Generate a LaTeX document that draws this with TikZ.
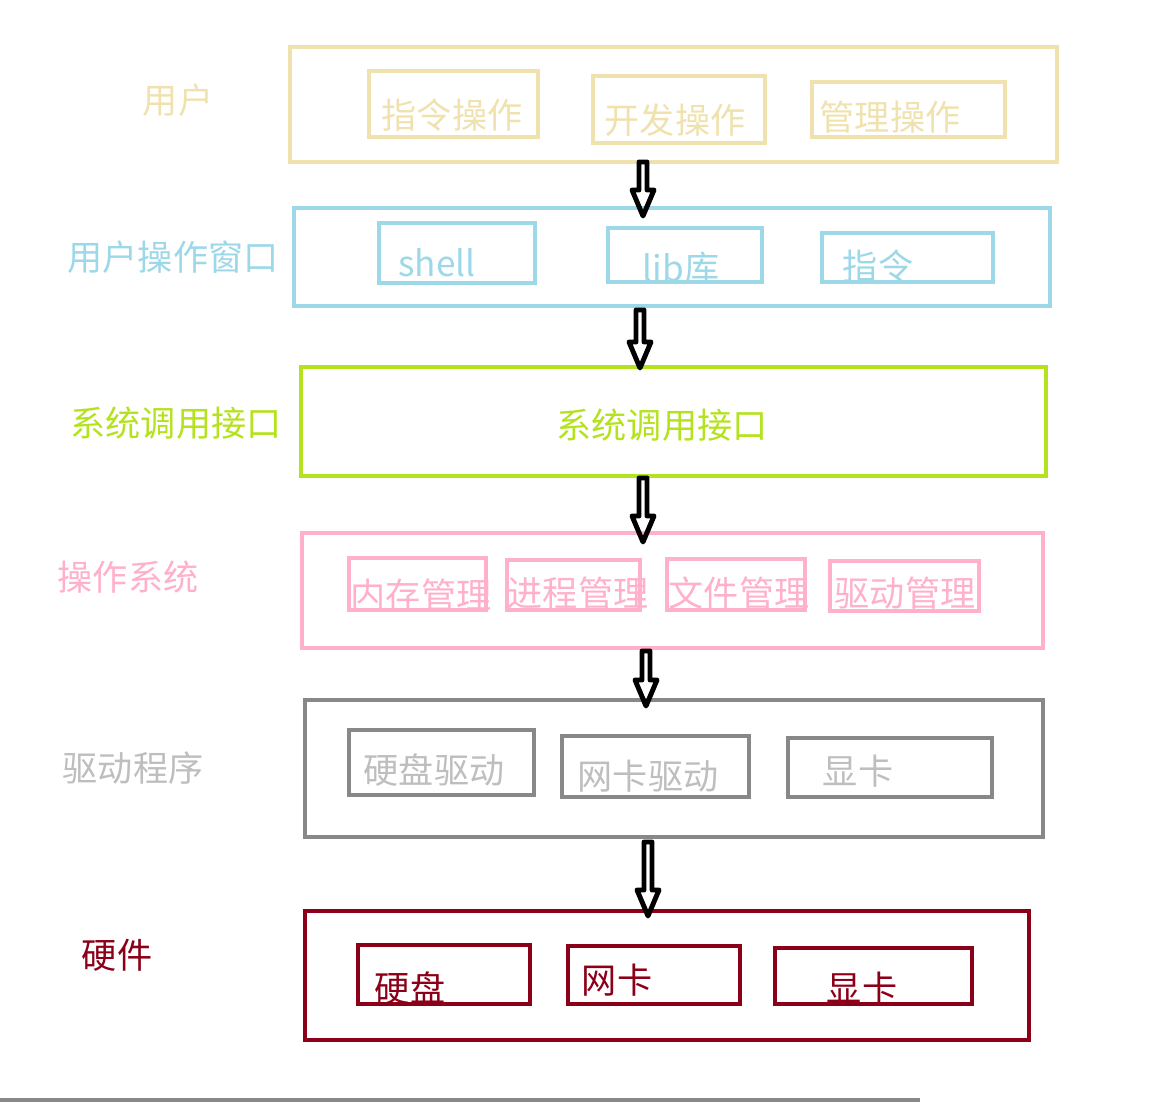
\documentclass[tikz,border=0pt]{standalone}
\usepackage{fontspec}
\setmainfont{Noto Sans CJK SC}
\usetikzlibrary{calc}
\usetikzlibrary{fit}

\definecolor{userc}{RGB}{240,226,174}
\definecolor{winc}{RGB}{156,216,232}
\definecolor{callc}{RGB}{180,226,30}
\definecolor{osc}{RGB}{255,176,203}
\definecolor{drvc}{RGB}{136,136,136}
\definecolor{drvt}{RGB}{190,190,190}
\definecolor{hwc}{RGB}{139,0,24}

\tikzset{
  layer/.style={draw=#1, line width=2.3pt, inner sep=0pt},
  part/.style={draw=#1, line width=2.2pt, inner sep=0pt},
  word/.style={text=#1, inner sep=0pt, font=\fontsize{20pt}{22pt}\selectfont},
}

% hollow hand drawn arrow between two named points
\newcommand\hollowarrow[2]{%
  \draw[line width=2.8pt, line join=round]
    ($(#1)+(-4,0)$) -- ($(#2)+(-4,-26)$) -- ($(#2)+(-11,-26)$) -- (#2)
    -- ($(#2)+(11,-26)$) -- ($(#2)+(4,-26)$) -- ($(#1)+(4,0)$) -- cycle;}

\begin{document}
\begin{tikzpicture}[x=0.02cm, y=-0.02cm]

\useasboundingbox (0,0) rectangle (1156,1104);

% user
\node[layer=userc, fit={(290,47) (1057,162)}] (user) {};
\node[part=userc, fit={(369,71) (538,137)}] (cmdop) {};
\node[part=userc, fit={(593,76) (765,143)}] (devop) {};
\node[part=userc, fit={(812,82) (1005,137)}] (mgrop) {};
\node[word=userc] (userl) at (178,100) {用户};
\node[word=userc] (cmdopt) at (452,115) {指令操作};
\node[word=userc] (devopt) at (675,120) {开发操作};
\node[word=userc] (mgropt) at (890,117) {管理操作};

% window
\node[layer=winc, fit={(294,208) (1050,306)}] (win) {};
\node[part=winc, fit={(379,223) (535,283)}] (shell) {};
\node[part=winc, fit={(608,228) (762,282)}] (lib) {};
\node[part=winc, fit={(822,233) (993,282)}] (cmd) {};
\node[word=winc] (winl) at (173,257) {用户操作窗口};
\node[word=winc] (shellt) at (437,263) {shell};
\node[word=winc] (libt) at (681,268) {lib库};
\node[word=winc] (cmdt) at (878,266) {指令};

% system call
\node[layer=callc, fit={(301,367) (1046,476)}] (call) {};
\node[word=callc] (calll) at (176,423) {系统调用接口};
\node[word=callc] (callt) at (662,425) {系统调用接口};

% os
\node[layer=osc, fit={(302,533) (1043,648)}] (os) {};
\node[part=osc, fit={(349,558) (486,610)}] (mem) {};
\node[part=osc, fit={(507,560) (640,610)}] (proc) {};
\node[part=osc, fit={(667,559) (805,610)}] (file) {};
\node[part=osc, fit={(830,561) (979,611)}] (drvm) {};
\node[word=osc] (osl) at (128,577) {操作系统};
\node[word=osc] (memt) at (421,595) {内存管理};
\node[word=osc] (proct) at (578,593) {进程管理};
\node[word=osc] (filet) at (739,593) {文件管理};
\node[word=osc] (drvmt) at (905,593) {驱动管理};

% drivers
\node[layer=drvc, fit={(305,700) (1043,837)}] (drv) {};
\node[part=drvc, fit={(349,730) (534,795)}] (diskd) {};
\node[part=drvc, fit={(562,736) (749,797)}] (netd) {};
\node[part=drvc, fit={(788,738) (992,797)}] (gpud) {};
\node[word=drvt] (drvl) at (133,768) {驱动程序};
\node[word=drvt] (diskdt) at (434,770) {硬盘驱动};
\node[word=drvt] (netdt) at (648,776) {网卡驱动};
\node[word=drvt] (gpudt) at (858,771) {显卡};

% hardware
\node[layer=hwc, fit={(305,911) (1029,1040)}] (hw) {};
\node[part=hwc, fit={(358,945) (530,1004)}] (disk) {};
\node[part=hwc, fit={(568,946) (740,1004)}] (net) {};
\node[part=hwc, fit={(775,948) (972,1004)}] (gpu) {};
\node[word=hwc] (hwl) at (117,955) {硬件};
\node[word=hwc] (diskt) at (410,988) {硬盘};
\node[word=hwc] (nett) at (617,980) {网卡};
\node[word=hwc] (gput) at (862,988) {显卡};

% arrows
\coordinate (a1) at (643,162);  \coordinate (b1) at (643,216);
\coordinate (a2) at (640,310);  \coordinate (b2) at (640,368);
\coordinate (a3) at (643,478);  \coordinate (b3) at (643,542);
\coordinate (a4) at (646,651);  \coordinate (b4) at (646,706);
\coordinate (a5) at (648,842);  \coordinate (b5) at (648,916);
\hollowarrow{a1}{b1}
\hollowarrow{a2}{b2}
\hollowarrow{a3}{b3}
\hollowarrow{a4}{b4}
\hollowarrow{a5}{b5}

% bottom bar
\coordinate (barl) at (0,1100);
\coordinate (barr) at (920,1100);
\draw[drvc, line width=2pt] (barl) -- (barr);

\end{tikzpicture}
\end{document}
